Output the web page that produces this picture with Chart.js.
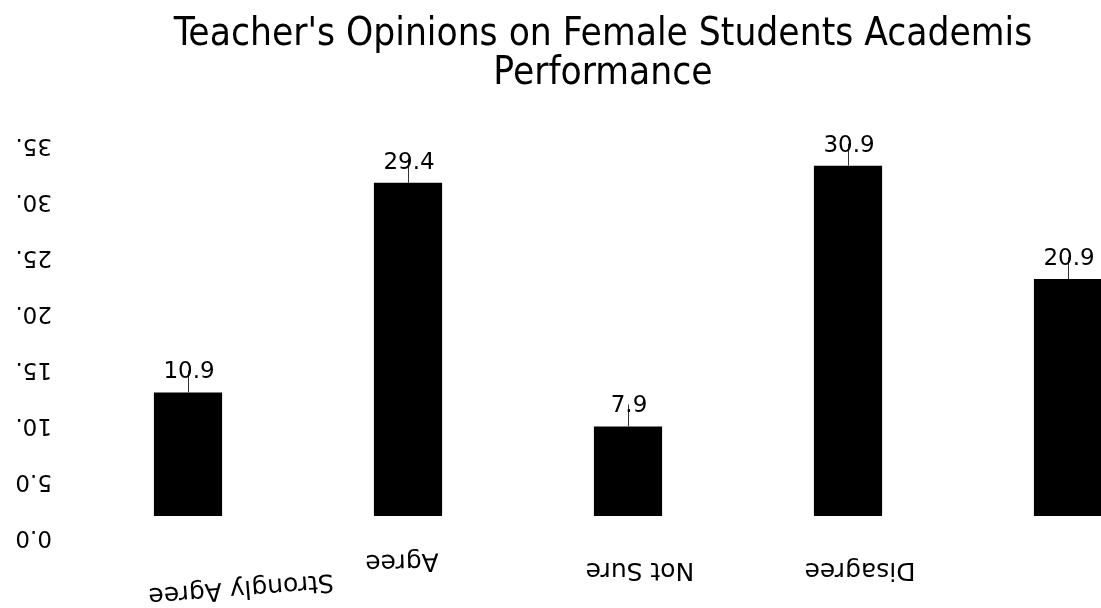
<!DOCTYPE html>
<html>
<head>
<meta charset="utf-8">
<script src="https://cdn.jsdelivr.net/npm/chart.js@4.4.1/dist/chart.umd.min.js"></script>
<style>
html,body{margin:0;padding:0;background:#fff;overflow:hidden;}
#wrap{width:1206px;height:608px;}
</style>
</head>
<body>
<div id="wrap"><canvas id="c" width="1206" height="608"></canvas></div>
<script>
const categories = ["Strongly Agree", "Agree", "Not Sure", "Disagree", "Strongly Disagree"];
const percentages = [10.9, 29.4, 7.9, 30.9, 20.9];
const yTickValues = [0, 5, 10, 15, 20, 25, 30, 35];
const yTickLabels = ["0.0", "5.0", "10.0", "15.0", "20.0", "25.0", "30.0", "35.0"];
const titleLines = ["Teacher's Opinions on Female Students Academis", "Performance"];

// style-only settings for the upside-down labels
const xLabelStyle = [
  {dx: 53, dy: 72, rot: 175.5, show: true},
  {dx: -6, dy: 45, rot: 178.5, show: true},
  {dx: 12, dy: 53, rot: 180, show: true},
  {dx: 12, dy: 53, rot: 180, show: true},
  {dx: 12, dy: 53, rot: 180, show: false}
];

const customText = {
  id: 'customText',
  afterDatasetsDraw(chart) {
    const ctx = chart.ctx;
    const meta = chart.getDatasetMeta(0);
    const xs = chart.scales.x, ys = chart.scales.y;
    ctx.save();
    // value labels with leader line
    ctx.font = '23px "DejaVu Sans"';
    ctx.textAlign = 'center';
    ctx.textBaseline = 'middle';
    meta.data.forEach((bar, i) => {
      const x = bar.x, y = bar.y;
      ctx.strokeStyle = '#333';
      ctx.lineWidth = 1;
      ctx.beginPath();
      ctx.moveTo(x + 0.5, y);
      ctx.lineTo(x + 0.5, y - 22);
      ctx.stroke();
      ctx.fillStyle = '#000';
      ctx.fillText(percentages[i].toFixed(1), x + 1, y - 20);
    });
    // y tick labels rotated 180 deg, clipped at the left
    ctx.save();
    ctx.beginPath();
    ctx.rect(14, 0, 200, chart.height);
    ctx.clip();
    ctx.font = '23px "DejaVu Sans"';
    yTickValues.forEach((v, i) => {
      const py = ys.getPixelForValue(v) + 21 + v / 7;
      const w = ctx.measureText(yTickLabels[i]).width;
      ctx.save();
      ctx.translate(52 - w / 2, py);
      ctx.rotate(Math.PI);
      ctx.fillStyle = '#000';
      ctx.textAlign = 'center';
      ctx.textBaseline = 'middle';
      ctx.fillText(yTickLabels[i], 0, 0);
      ctx.restore();
    });
    ctx.restore();
    // x tick labels rotated ~180 deg
    ctx.font = '25px "DejaVu Sans"';
    categories.forEach((c, i) => {
      const st = xLabelStyle[i];
      if (!st.show) return;
      const px = xs.getPixelForValue(i) + st.dx;
      const py = ys.getPixelForValue(0) + st.dy;
      ctx.save();
      ctx.translate(px, py);
      ctx.rotate(st.rot * Math.PI / 180);
      ctx.fillStyle = '#000';
      ctx.textAlign = 'center';
      ctx.textBaseline = 'middle';
      ctx.fillText(c, 0, 0);
      ctx.restore();
    });
    ctx.restore();
  }
};

new Chart(document.getElementById('c'), {
  type: 'bar',
  data: {
    labels: categories,
    datasets: [{
      data: percentages,
      backgroundColor: '#000',
      borderWidth: 0,
      categoryPercentage: 1.0,
      barPercentage: 0.31
    }]
  },
  options: {
    responsive: false,
    animation: false,
    events: [],
    layout: {padding: {left: 0, right: 0, top: 0, bottom: 92}},
    plugins: {
      legend: {display: false},
      tooltip: {enabled: false},
      title: {
        display: true,
        text: titleLines,
        color: '#000',
        font: {family: '"Liberation Sans Narrow", "DejaVu Sans Condensed", sans-serif', size: 38.5, weight: 'normal', lineHeight: 1.03},
        padding: {top: 15, bottom: 25}
      }
    },
    scales: {
      x: {display: false},
      y: {
        display: true, min: 0, max: 35,
        ticks: {display: false},
        grid: {display: false},
        border: {display: false},
        afterFit(s) { s.width = 78; }
      },
      yRight: {
        display: true, position: 'right', min: 0, max: 35,
        ticks: {display: false},
        grid: {display: false},
        border: {display: false},
        afterFit(s) { s.width = 28; }
      }
    }
  },
  plugins: [customText]
});
</script>
</body>
</html>
